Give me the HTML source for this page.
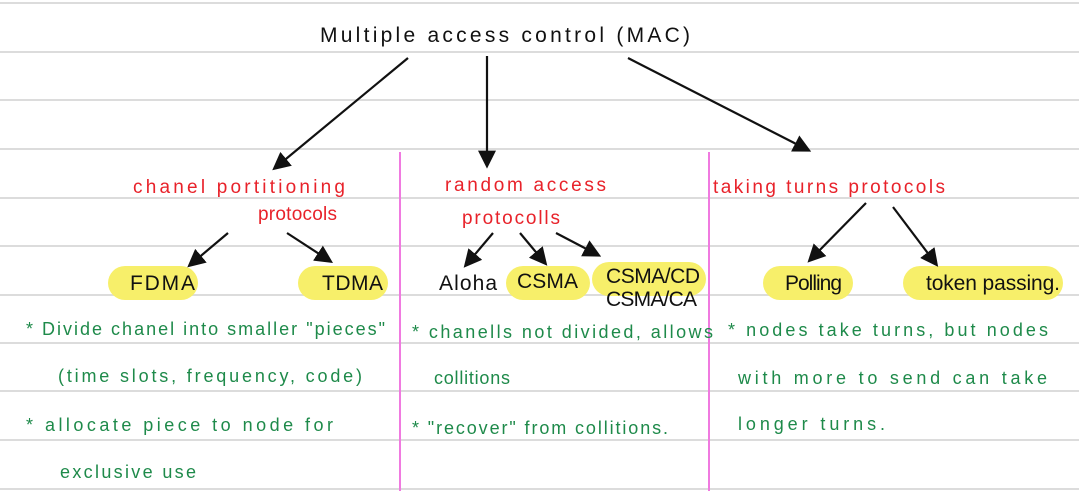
<!DOCTYPE html>
<html><head><meta charset="utf-8"><style>
html,body{margin:0;padding:0;background:#fff}
svg{display:block}
text{font-family:"Liberation Sans",sans-serif}
.k{fill:#111;font-size:21px}
.r{fill:#e8222a;font-size:19px}
.g{fill:#1e8a4a;font-size:18px}
</style></head><body>
<svg width="1079" height="491" viewBox="0 0 1079 491" xmlns="http://www.w3.org/2000/svg">
<defs>
<marker id="b" viewBox="0 0 10 10" refX="8" refY="5" markerWidth="18" markerHeight="18" markerUnits="userSpaceOnUse" orient="auto"><path d="M0,0 L10,5 L0,10 z" fill="#111"/></marker></defs>
<g stroke="#dcdcdc" stroke-width="2">
<line x1="0" y1="3" x2="1079" y2="3"/><line x1="0" y1="52" x2="1079" y2="52"/><line x1="0" y1="100" x2="1079" y2="100"/><line x1="0" y1="149" x2="1079" y2="149"/><line x1="0" y1="198" x2="1079" y2="198"/><line x1="0" y1="246" x2="1079" y2="246"/><line x1="0" y1="295" x2="1079" y2="295"/><line x1="0" y1="343" x2="1079" y2="343"/><line x1="0" y1="391" x2="1079" y2="391"/><line x1="0" y1="440" x2="1079" y2="440"/><line x1="0" y1="489" x2="1079" y2="489"/>
</g>
<g stroke="#f07ae0" stroke-width="2"><line x1="400" y1="152" x2="400" y2="491"/><line x1="709" y1="152" x2="709" y2="491"/></g>
<g fill="#f7ef6a">
<rect x="108" y="266" width="90" height="34" rx="17"/><rect x="298" y="266" width="90" height="34" rx="17"/>
<rect x="506" y="266" width="84" height="34" rx="17"/><rect x="592" y="262" width="114" height="34" rx="17"/>
<rect x="763" y="266" width="90" height="34" rx="17"/><rect x="903" y="266" width="160" height="34" rx="17"/>
</g>
<g stroke="#111" stroke-width="2.2" fill="none" marker-end="url(#b)">
<line x1="408" y1="58" x2="275" y2="168"/><line x1="487" y1="56" x2="487" y2="165"/><line x1="628" y1="58" x2="808" y2="150"/>
<line x1="228" y1="233" x2="190" y2="265"/><line x1="287" y1="233" x2="330" y2="261"/>
<line x1="493" y1="233" x2="466" y2="265"/><line x1="520" y1="233" x2="545" y2="263"/><line x1="556" y1="233" x2="598" y2="255"/>
<line x1="866" y1="203" x2="810" y2="260"/><line x1="893" y1="207" x2="936" y2="264"/>
</g>
<text class="k" x="320" y="42" textLength="370" lengthAdjust="spacing">Multiple  access  control (MAC)</text>
<text class="r" x="133" y="193" textLength="212" lengthAdjust="spacing">chanel  portitioning</text>
<text class="r" x="258" y="220" textLength="79" lengthAdjust="spacing">protocols</text>
<text class="r" x="445" y="191" textLength="161" lengthAdjust="spacing">random access</text>
<text class="r" x="462" y="224" textLength="98" lengthAdjust="spacing">protocolls</text>
<text class="r" x="713" y="193" font-size="17" textLength="232" lengthAdjust="spacing">taking turns  protocols</text>
<text class="k" x="130" y="290" font-size="18" textLength="65" lengthAdjust="spacing">FDMA</text>
<text class="k" x="322" y="290" font-size="18" textLength="61" lengthAdjust="spacing">TDMA</text>
<text class="k" x="439" y="290" font-size="18" textLength="58" lengthAdjust="spacing">Aloha</text>
<text class="k" x="517" y="288" font-size="17" textLength="61" lengthAdjust="spacing">CSMA</text>
<text class="k" x="606" y="283" font-size="17" textLength="94" lengthAdjust="spacing">CSMA/CD</text>
<text class="k" x="606" y="306" font-size="17" textLength="91" lengthAdjust="spacing">CSMA/CA</text>
<text class="k" x="785" y="290" font-size="16" textLength="57" lengthAdjust="spacing">Polling</text>
<text class="k" x="926" y="290" font-size="16" textLength="134" lengthAdjust="spacing">token passing.</text>
<text class="g" x="26" y="335" textLength="359" lengthAdjust="spacing">* Divide chanel into smaller "pieces"</text>
<text class="g" x="58" y="382" textLength="304" lengthAdjust="spacing">(time slots, frequency, code)</text>
<text class="g" x="26" y="431" textLength="307" lengthAdjust="spacing">* allocate piece to node for</text>
<text class="g" x="60" y="478" textLength="136" lengthAdjust="spacing">exclusive use</text>
<text class="g" x="412" y="338" textLength="301" lengthAdjust="spacing">* chanells not divided, allows</text>
<text class="g" x="434" y="384" textLength="76" lengthAdjust="spacing">collitions</text>
<text class="g" x="412" y="434" textLength="256" lengthAdjust="spacing">* "recover" from collitions.</text>
<text class="g" x="728" y="336" textLength="320" lengthAdjust="spacing">* nodes take turns, but nodes</text>
<text class="g" x="738" y="384" textLength="309" lengthAdjust="spacing">with more to send can take</text>
<text class="g" x="738" y="430" textLength="147" lengthAdjust="spacing">longer turns.</text>
</svg>
</body></html>
